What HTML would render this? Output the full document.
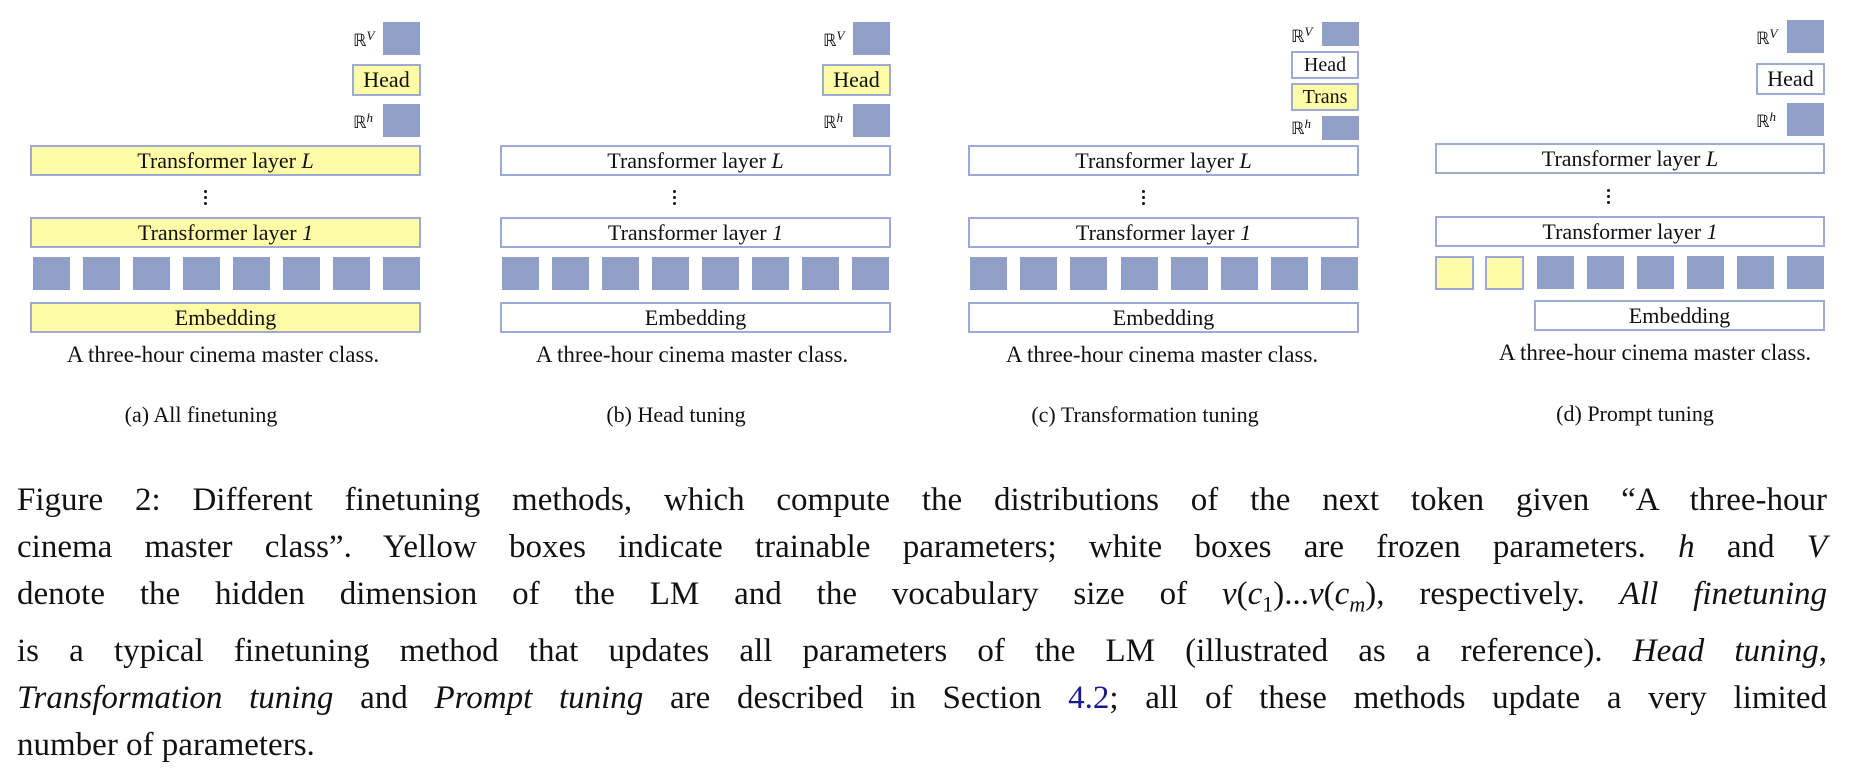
<!DOCTYPE html>
<html><head><meta charset="utf-8"><style>
body{margin:0;width:1852px;height:770px;background:#fff;position:relative;overflow:hidden;font-family:"Liberation Serif",serif;color:#111}
.b{position:absolute;box-sizing:border-box;border:2px solid #9dabd4;background:#fff;text-align:center;font-size:22px;display:flex;align-items:center;justify-content:center}
.y{background:#fffba6}
.s{position:absolute;background:#909fc7;width:37px;height:33px}
.t{position:absolute;white-space:nowrap;font-size:22px;transform:translateX(-50%)}
.r{position:absolute;font-size:17px;white-space:nowrap}
.r i{font-size:13px;vertical-align:6px}
.d{position:absolute;width:3px;height:3px;border-radius:50%;background:#111}
.cap{position:absolute;left:17px;width:1810px;font-size:33px;line-height:47px;top:477px}
.cap div{text-align:justify;text-align-last:justify;white-space:nowrap}
.cap div.l{text-align-last:left}
</style></head><body>

<!-- panel a -->
<div class="r" style="left:353px;top:28px">ℝ<i>V</i></div>
<div class="s" style="left:383px;top:22px"></div>
<div class="b y" style="left:352px;top:64px;width:69px;height:32px">Head</div>
<div class="r" style="left:353px;top:110px">ℝ<i>h</i></div>
<div class="s" style="left:383px;top:104px"></div>
<div class="b y" style="left:30px;top:145px;width:391px;height:31px">Transformer layer&nbsp;<i>L</i></div>
<div class="d" style="left:204px;top:190px"></div><div class="d" style="left:204px;top:196px"></div><div class="d" style="left:204px;top:202px"></div>
<div class="b y" style="left:30px;top:217px;width:391px;height:31px">Transformer layer&nbsp;<i>1</i></div>
<div class="s" style="left:33px;top:257px"></div><div class="s" style="left:83px;top:257px"></div><div class="s" style="left:133px;top:257px"></div><div class="s" style="left:183px;top:257px"></div><div class="s" style="left:233px;top:257px"></div><div class="s" style="left:283px;top:257px"></div><div class="s" style="left:333px;top:257px"></div><div class="s" style="left:383px;top:257px"></div>
<div class="b y" style="left:30px;top:302px;width:391px;height:31px">Embedding</div>
<div class="t" style="left:223px;top:342px;font-size:23px">A three-hour cinema master class.</div>
<div class="t" style="left:201px;top:402px">(a) All finetuning</div>

<!-- panel b -->
<div class="r" style="left:823px;top:28px">ℝ<i>V</i></div>
<div class="s" style="left:853px;top:22px"></div>
<div class="b y" style="left:822px;top:64px;width:69px;height:32px">Head</div>
<div class="r" style="left:823px;top:110px">ℝ<i>h</i></div>
<div class="s" style="left:853px;top:104px"></div>
<div class="b" style="left:500px;top:145px;width:391px;height:31px">Transformer layer&nbsp;<i>L</i></div>
<div class="d" style="left:673px;top:190px"></div><div class="d" style="left:673px;top:196px"></div><div class="d" style="left:673px;top:202px"></div>
<div class="b" style="left:500px;top:217px;width:391px;height:31px">Transformer layer&nbsp;<i>1</i></div>
<div class="s" style="left:502px;top:257px"></div><div class="s" style="left:552px;top:257px"></div><div class="s" style="left:602px;top:257px"></div><div class="s" style="left:652px;top:257px"></div><div class="s" style="left:702px;top:257px"></div><div class="s" style="left:752px;top:257px"></div><div class="s" style="left:802px;top:257px"></div><div class="s" style="left:852px;top:257px"></div>
<div class="b" style="left:500px;top:302px;width:391px;height:31px">Embedding</div>
<div class="t" style="left:692px;top:342px;font-size:23px">A three-hour cinema master class.</div>
<div class="t" style="left:676px;top:402px">(b) Head tuning</div>

<!-- panel c -->
<div class="r" style="left:1291px;top:24px">ℝ<i>V</i></div>
<div class="s" style="left:1322px;top:22px;height:24px"></div>
<div class="b" style="left:1291px;top:51px;width:68px;height:28px;font-size:20px">Head</div>
<div class="b y" style="left:1291px;top:83px;width:68px;height:28px;font-size:20px">Trans</div>
<div class="r" style="left:1291px;top:116px">ℝ<i>h</i></div>
<div class="s" style="left:1322px;top:116px;height:24px"></div>
<div class="b" style="left:968px;top:145px;width:391px;height:31px">Transformer layer&nbsp;<i>L</i></div>
<div class="d" style="left:1142px;top:190px"></div><div class="d" style="left:1142px;top:196px"></div><div class="d" style="left:1142px;top:202px"></div>
<div class="b" style="left:968px;top:217px;width:391px;height:31px">Transformer layer&nbsp;<i>1</i></div>
<div class="s" style="left:970px;top:257px"></div><div class="s" style="left:1020px;top:257px"></div><div class="s" style="left:1070px;top:257px"></div><div class="s" style="left:1121px;top:257px"></div><div class="s" style="left:1171px;top:257px"></div><div class="s" style="left:1221px;top:257px"></div><div class="s" style="left:1271px;top:257px"></div><div class="s" style="left:1321px;top:257px"></div>
<div class="b" style="left:968px;top:302px;width:391px;height:31px">Embedding</div>
<div class="t" style="left:1162px;top:342px;font-size:23px">A three-hour cinema master class.</div>
<div class="t" style="left:1145px;top:402px">(c) Transformation tuning</div>

<!-- panel d -->
<div class="r" style="left:1756px;top:26px">ℝ<i>V</i></div>
<div class="s" style="left:1787px;top:20px"></div>
<div class="b" style="left:1756px;top:63px;width:69px;height:32px">Head</div>
<div class="r" style="left:1756px;top:109px">ℝ<i>h</i></div>
<div class="s" style="left:1787px;top:103px"></div>
<div class="b" style="left:1435px;top:143px;width:390px;height:31px">Transformer layer&nbsp;<i>L</i></div>
<div class="d" style="left:1607px;top:189px"></div><div class="d" style="left:1607px;top:195px"></div><div class="d" style="left:1607px;top:201px"></div>
<div class="b" style="left:1435px;top:216px;width:390px;height:31px">Transformer layer&nbsp;<i>1</i></div>
<div class="b y" style="left:1435px;top:256px;width:39px;height:34px"></div><div class="b y" style="left:1485px;top:256px;width:39px;height:34px"></div>
<div class="s" style="left:1537px;top:256px"></div><div class="s" style="left:1587px;top:256px"></div><div class="s" style="left:1637px;top:256px"></div><div class="s" style="left:1687px;top:256px"></div><div class="s" style="left:1737px;top:256px"></div><div class="s" style="left:1787px;top:256px"></div>
<div class="b" style="left:1534px;top:300px;width:291px;height:31px">Embedding</div>
<div class="t" style="left:1655px;top:340px;font-size:23px">A three-hour cinema master class.</div>
<div class="t" style="left:1635px;top:401px">(d) Prompt tuning</div>

<div class="cap">
<div>Figure 2: Different finetuning methods, which compute the distributions of the next token given “A three-hour</div>
<div>cinema master class”. Yellow boxes indicate trainable parameters; white boxes are frozen parameters. <i>h</i> and <i>V</i></div>
<div>denote the hidden dimension of the LM and the vocabulary size of <i>v</i>(<i>c</i><sub style="font-size:22px">1</sub>)...<i>v</i>(<i>c</i><sub style="font-size:22px"><i>m</i></sub>), respectively. <i>All finetuning</i></div>
<div>is a typical finetuning method that updates all parameters of the LM (illustrated as a reference). <i>Head tuning</i>,</div>
<div><i>Transformation tuning</i> and <i>Prompt tuning</i> are described in Section <span style="color:#1a1a8c">4.2</span>; all of these methods update a very limited</div>
<div class="l">number of parameters.</div>
</div>
</body></html>
